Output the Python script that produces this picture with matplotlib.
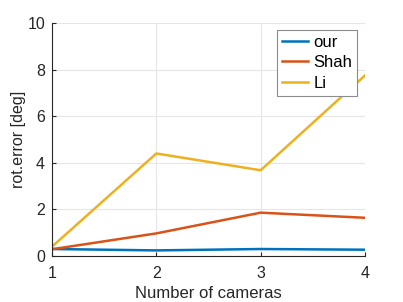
import matplotlib
matplotlib.use("Agg")
from matplotlib import pyplot as plt

# dados
cameras = [1, 2, 3, 4]
our = [0.30, 0.24, 0.30, 0.27]
shah = [0.29, 0.97, 1.86, 1.64]
li = [0.40, 4.40, 3.68, 7.75]

plt.rcParams['font.family'] = ['Liberation Sans', 'DejaVu Sans']

fig = plt.figure(figsize=(4.03, 3.02), dpi=100)
ax = fig.add_axes([52/403, 1 - 256/302, 313/403, 233/302])

ax.plot(cameras, our, color='#0072BD', lw=1.8, label='our')
ax.plot(cameras, shah, color='#D95319', lw=1.8, label='Shah')
ax.plot(cameras, li, color='#EDB120', lw=1.8, label='Li')

ax.set_xlim(1, 4)
ax.set_ylim(0, 10)
ax.set_xticks([1, 2, 3, 4])
ax.set_yticks([0, 2, 4, 6, 8, 10])
ax.grid(True, color='#e6e6e6', lw=0.8)
ax.set_axisbelow(True)

for s in ['top', 'right']:
    ax.spines[s].set_visible(False)
for s in ['left', 'bottom']:
    ax.spines[s].set_color('#262626')
    ax.spines[s].set_linewidth(0.8)
ax.tick_params(direction='in', length=3, width=0.8, colors='#262626', labelsize=11.5)
ax.tick_params(axis='x', pad=7.5)
ax.tick_params(axis='y', pad=5)

ax.set_xlabel('Number of cameras', fontsize=12, color='#262626', labelpad=3)
ax.set_ylabel('rot.error [deg]', fontsize=11.5, color='#262626', labelpad=1)

leg = ax.legend(loc='upper right', bbox_to_anchor=(0.975, 0.97), fontsize=12,
                fancybox=False, framealpha=1, edgecolor='#8c8c8c',
                handlelength=1.6, handletextpad=0.3, borderpad=0.3, labelspacing=0.32,
                borderaxespad=0)
leg.get_frame().set_linewidth(0.8)

plt.savefig('out.png', dpi=100)
